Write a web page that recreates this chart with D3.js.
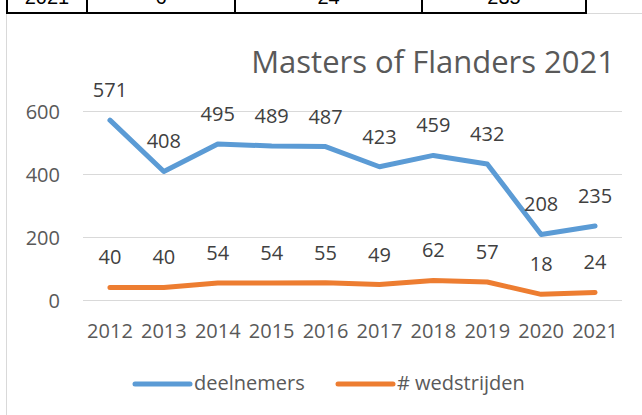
<!DOCTYPE html>
<html lang="nl">
<head>
<meta charset="utf-8">
<title>Masters of Flanders 2021</title>
<style>
body { margin: 0; background: #fff; }
svg { display: block; }
text { font-family: "Open Sans", sans-serif; }
.axis text { font-size: 20px; fill: #595959; }
.lbl { font-size: 20px; fill: #404040; }
</style>
</head>
<body>
<svg width="642" height="415"></svg>
<script src="https://cdn.jsdelivr.net/npm/d3@7"></script>
<script>
var years = ["2012", "2013", "2014", "2015", "2016", "2017", "2018", "2019", "2020", "2021"];
var deelnemers = [571, 408, 495, 489, 487, 423, 459, 432, 208, 235];
var wedstrijden = [40, 40, 54, 54, 55, 49, 62, 57, 18, 24];
var yTicks = [0, 200, 400, 600];
var tableRow = ["2021", "6", "24", "235"];
var seriesNames = ["deelnemers", "# wedstrijden"];
var colors = ["#5b9bd5", "#ed7d31"];

var svg = d3.select("svg");

// chart frame (light grey border of the excel chart)
svg.append("rect")
    .attr("x", 6.5).attr("y", 13.5)
    .attr("width", 700).attr("height", 500)
    .attr("fill", "none")
    .attr("stroke", "#d9d9d9");

// bit of the table sitting above the chart (cut off at the top, as in the screenshot)
var cols = [7, 87, 235, 422, 586];
var tbl = svg.append("g");
tbl.selectAll("text")
    .data(tableRow)
  .enter().append("text")
    .attr("x", function(d, i) { return (cols[i] + cols[i + 1]) / 2; })
    .attr("y", 4)
    .attr("text-anchor", "middle")
    .style("font-family", "'Liberation Sans', Arial, sans-serif")
    .style("font-size", "20px")
    .attr("fill", "#000")
    .text(function(d) { return d; });
tbl.selectAll("line.v")
    .data(cols)
  .enter().append("line")
    .attr("class", "v")
    .attr("x1", function(d) { return d; }).attr("x2", function(d) { return d; })
    .attr("y1", 0).attr("y2", 14)
    .attr("stroke", "#000").attr("stroke-width", 2);
tbl.append("line")
    .attr("x1", cols[0] - 1).attr("x2", cols[4] + 1)
    .attr("y1", 13).attr("y2", 13)
    .attr("stroke", "#000").attr("stroke-width", 2);

// title
svg.append("text")
    .attr("x", 615).attr("y", 73)
    .attr("text-anchor", "end")
    .style("font-size", "31px")
    .attr("fill", "#595959")
    .text("Masters of Flanders 2021");

var x = d3.scaleBand().domain(years).range([83, 622]);
var y = d3.scaleLinear().domain([0, 600]).range([300, 111]);

// gridlines
svg.append("g").selectAll("line")
    .data(yTicks)
  .enter().append("line")
    .attr("x1", 83).attr("x2", 622)
    .attr("y1", function(d) { return Math.round(y(d)) + 0.5; })
    .attr("y2", function(d) { return Math.round(y(d)) + 0.5; })
    .attr("stroke", "#d9d9d9");

var yAxis = svg.append("g").attr("class", "axis")
    .attr("transform", "translate(60,0)")
    .call(d3.axisLeft(y).tickValues(yTicks).tickSize(0).tickPadding(0));
yAxis.select(".domain").remove();
yAxis.selectAll("text").attr("dy", "0.35em");

var xAxis = svg.append("g").attr("class", "axis")
    .attr("transform", "translate(0,338)")
    .call(d3.axisBottom(x).tickSize(0).tickPadding(0));
xAxis.select(".domain").remove();
xAxis.selectAll("text").attr("dy", 0).attr("y", 0);

var line = d3.line()
    .x(function(d, i) { return x(years[i]) + x.bandwidth() / 2; })
    .y(function(d) { return y(d); });

[deelnemers, wedstrijden].forEach(function(vals, k) {
  svg.append("path")
      .datum(vals)
      .attr("d", line)
      .attr("fill", "none")
      .attr("stroke", colors[k])
      .attr("stroke-width", 5)
      .attr("stroke-linecap", "round")
      .attr("stroke-linejoin", "round");
  svg.append("g").selectAll("text")
      .data(vals)
    .enter().append("text")
      .attr("class", "lbl")
      .attr("x", function(d, i) { return x(years[i]) + x.bandwidth() / 2; })
      .attr("y", function(d) { return y(d) - 23; })
      .attr("text-anchor", "middle")
      .text(function(d) { return d; });
});

// legend
var legX = [135, 338];
var leg = svg.append("g").selectAll("g")
    .data(seriesNames)
  .enter().append("g")
    .attr("transform", function(d, i) { return "translate(" + legX[i] + ",384)"; });
leg.append("line")
    .attr("x1", 0).attr("x2", 55)
    .attr("stroke", function(d, i) { return colors[i]; })
    .attr("stroke-width", 5)
    .attr("stroke-linecap", "round");
leg.append("text")
    .attr("x", 59).attr("y", 6)
    .style("font-size", "20px")
    .attr("fill", "#595959")
    .text(function(d) { return d; });
</script>
</body>
</html>
